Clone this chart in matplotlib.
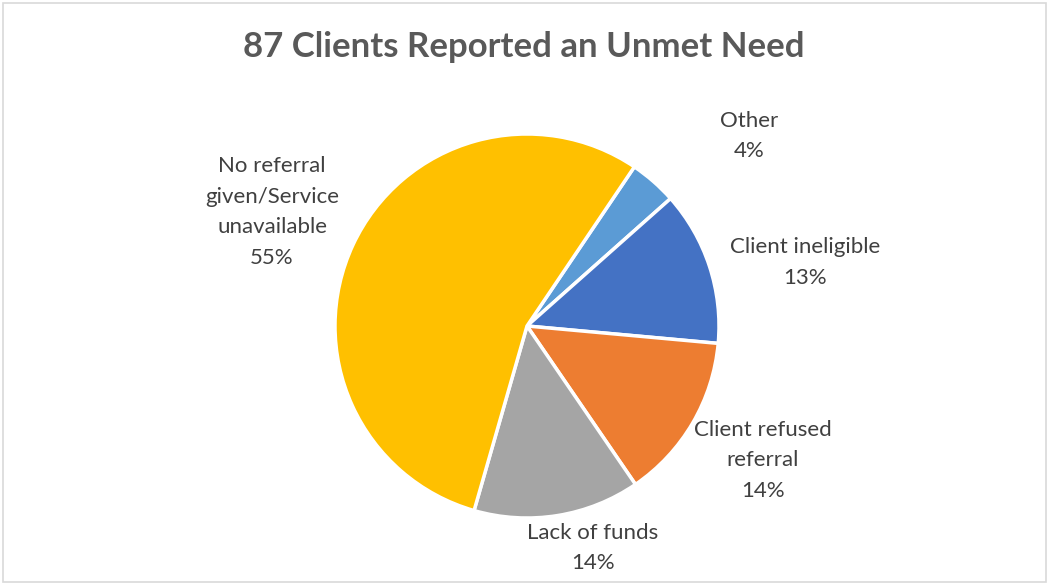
import matplotlib
matplotlib.use("Agg")
import matplotlib.pyplot as plt
from matplotlib.patches import Rectangle

categories = ["Other", "Client ineligible", "Client refused\nreferral",
              "Lack of funds", "No referral\ngiven/Service\nunavailable"]
shares = [4, 13, 14, 14, 55]
colors = ["#5b9bd5", "#4472c4", "#ed7d31", "#a5a5a5", "#ffc000"]
# label centres, in pie-radius units from the pie centre
label_xy = [(1.156, 0.99), (1.448, 0.33), (1.229, -0.70),
            (0.344, -1.156), (-1.328, 0.594)]

plt.rcParams["font.family"] = ["Lato", "DejaVu Sans"]

W, H = 1048, 583
fig = plt.figure(figsize=(W / 100, H / 100), dpi=100)
ax = fig.add_axes([0, 0, 1, 1])

cx, cy, r = 527, 326, 192
ax.pie(shares, colors=colors, startangle=56, counterclock=False,
       wedgeprops=dict(edgecolor="white", linewidth=2.5))
ax.set_xlim(-cx / r, (W - cx) / r)
ax.set_ylim(-(H - cy) / r, cy / r)
ax.set_aspect("equal")
ax.axis("off")

for cat, v, (x, y) in zip(categories, shares, label_xy):
    ax.text(x, y, f"{cat}\n{v}%", ha="center", va="center", fontsize=16,
            color="#404040", linespacing=1.65)

fig.text(0.5, 1 - 47 / H, "87 Clients Reported an Unmet Need", ha="center",
         va="center", fontsize=25, fontweight="bold", color="#595959")

fig.patches.append(Rectangle((3 / W, 1 / H), 1 - 5 / W, 1 - 4 / H,
                             transform=fig.transFigure, fill=False,
                             edgecolor="#d9d9d9", linewidth=1.2))

fig.savefig("out.png", dpi=100)
